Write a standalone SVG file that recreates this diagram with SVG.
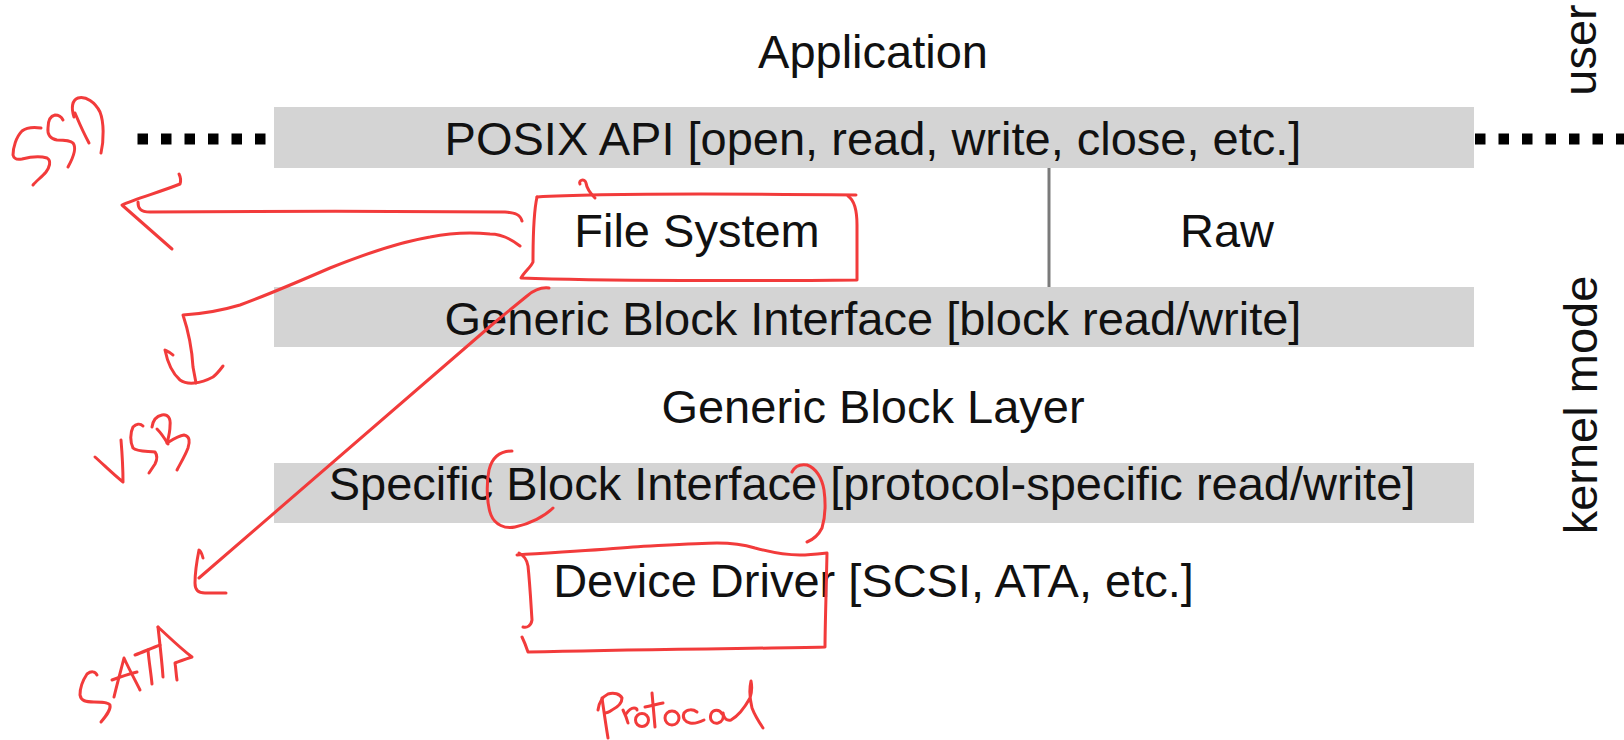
<svg xmlns="http://www.w3.org/2000/svg" width="1624" height="740" viewBox="0 0 1624 740">
  <style>
    .lbl { font-family: "Liberation Sans", Arial, Helvetica, sans-serif; font-size: 47px; fill: #111; text-anchor: middle; }
    .bar { fill: #d4d4d4; }
    .dots { stroke: #000; stroke-width: 11; stroke-dasharray: 10.5 13; fill: none; }
    .ink { fill: none; stroke: #f23b3b; stroke-width: 3; stroke-linecap: round; stroke-linejoin: round; }
  </style>

  <rect width="1624" height="740" fill="#fff"/>

  <!-- user / kernel boundary -->
  <g id="boundary">
    <line class="dots" x1="137.5" y1="139" x2="268" y2="139"/>
    <line class="dots" x1="1475" y1="139" x2="1624" y2="139"/>
  </g>

  <g id="application">
    <text class="lbl" x="873" y="68">Application</text>
  </g>

  <g id="posix-api">
    <rect class="bar" x="274" y="107" width="1200" height="61"/>
    <text class="lbl" x="873" y="155">POSIX API [open, read, write, close, etc.]</text>
  </g>

  <g id="file-system">
    <text class="lbl" x="697" y="247">File System</text>
  </g>

  <g id="raw">
    <text class="lbl" x="1227" y="247">Raw</text>
  </g>

  <g id="generic-block-interface">
    <rect class="bar" x="274" y="287" width="1200" height="60"/>
    <text class="lbl" x="873" y="335">Generic Block Interface [block read/write]</text>
  </g>

  <g id="generic-block-layer">
    <text class="lbl" x="873" y="423">Generic Block Layer</text>
  </g>

  <g id="specific-block-interface">
    <rect class="bar" x="274" y="463" width="1200" height="60"/>
    <text class="lbl" x="872" y="500">Specific Block Interface [protocol-specific read/write]</text>
  </g>

  <g id="device-driver">
    <text class="lbl" x="873.5" y="597">Device Driver [SCSI, ATA, etc.]</text>
  </g>

  <g id="mode-labels">
    <text class="lbl" transform="translate(1596,50) rotate(-90)">user</text>
    <text class="lbl" transform="translate(1597,405) rotate(-90)">kernel mode</text>
  </g>

  <!-- divider between File System and Raw -->
  <g id="connectors">
    <line x1="1049" y1="168" x2="1049" y2="287" stroke="#7a7a7a" stroke-width="3"/>
  </g>

  <!-- handwritten notes in red -->
  <g id="notes">
    <!-- box round File System -->
    <path class="ink" d="M580,184 C578,180 585,178 586,183 C587,190 592,195 595,198"/>
    <path class="ink" d="M537,197 C600,193 760,194 856,195"/>
    <path class="ink" d="M848,196 C854,200 857,210 857,225 C857,245 857,265 857,280 C760,281 600,281 521,278 C524,272 531,267 533,262 C533,240 533,215 537,197"/>
    <!-- SSD arrow -->
    <path class="ink" d="M522,221 C520,214 515,213 505,212 C400,211 250,211 150,212 C140,212 138,208 138,202"/>
    <path class="ink" d="M179,174 C181,178 181,181 180,184 C160,192 135,199 122,205 L172,249"/>
    <!-- SSD -->
    <path class="ink" d="M41,128 C34,127 27,127 22,131 C16,137 13,148 13,155 C14,159 17,160 22,159 C30,157 40,156 47,158 C52,161 49,168 46,172 C42,177 36,181 33,185"/>
    <path class="ink" d="M63,120 C61,116 58,115 55,115 C50,116 48,121 48,128 C47,135 51,139 57,140 C63,140 70,140 73,143 C77,148 73,158 68,167"/>
    <path class="ink" d="M75,113 C78,120 82,130 89,143"/>
    <path class="ink" d="M74,117 C71,108 72,100 78,98 C86,96 95,102 100,112 C104,122 104,140 101,153"/>
    <!-- USB arrow -->
    <path class="ink" d="M520,246 C510,238 500,234 490,234 C470,232 450,233 430,237 C400,242 370,252 330,268 C300,281 270,294 240,305 C220,311 200,314 183,315 C188,330 192,350 193,367 L196,383"/>
    <path class="ink" d="M173,355 C170,352 167,351 165,350 C167,360 172,373 180,380 C187,385 200,384 213,377 C217,374 220,370 223,366"/>
    <!-- USB -->
    <path class="ink" d="M95,457 C104,465 114,475 123,482 C123,468 122,452 121,440"/>
    <path class="ink" d="M143,426 C140,423 136,424 133,427 C130,433 130,442 133,448 C137,452 148,451 155,452 C158,456 157,460 155,464 L149,473"/>
    <path class="ink" d="M157,429 C162,434 165,439 168,444"/>
    <path class="ink" d="M152,427 C153,420 157,416 162,415 C168,414 171,418 170,426 C170,433 168,439 167,443 C172,440 178,436 184,435 C190,436 190,442 188,448 C185,456 180,464 177,470"/>
    <!-- SATA arrow -->
    <path class="ink" d="M549,288 C541,287 534,290 527,296 C516,305 505,314 494,323 L199,578"/>
    <path class="ink" d="M203,558 C202,554 201,551 199,550 C197,560 195,572 195,583 C195,590 198,593 205,593 C212,593 219,593 226,593"/>
    <!-- SATA -->
    <path class="ink" d="M97,675 C95,671 91,671 87,674 C83,680 80,688 80,695 C81,701 86,702 94,702 C101,702 108,702 110,705 C111,710 106,716 101,722"/>
    <path class="ink" d="M114,697 C117,684 121,670 124,658 C129,669 135,680 140,690"/>
    <path class="ink" d="M112,680 C120,677 129,674 137,672"/>
    <path class="ink" d="M135,655 C143,652 152,648 160,645"/>
    <path class="ink" d="M148,650 C149,662 151,673 152,684"/>
    <path class="ink" d="M158,627 C160,645 162,662 163,677"/>
    <path class="ink" d="M158,627 C168,636 180,648 192,657 C186,659 180,661 175,663 C176,669 176,674 177,680"/>
    <!-- brackets round Block / Interface -->
    <path class="ink" d="M512,451 C500,451 492,458 489,470 C486,485 487,505 491,515 C495,525 505,529 515,527 C530,524 545,516 553,508"/>
    <path class="ink" d="M792,472 C795,466 801,464 807,465 C816,468 822,478 824,490 C826,505 825,518 822,528 C818,536 812,540 807,542"/>
    <!-- box round Device Driver -->
    <path class="ink" d="M517,555 C560,552 600,550 633,547 C670,545 700,543 717,543 C735,543 745,545 755,548 C770,552 785,555 800,555 C810,555 818,554 827,553 C826,600 825,630 825,647 C740,649 640,649 528,652 C526,646 524,641 522,637"/>
    <path class="ink" d="M519,553 C525,556 527,560 528,566 C530,585 531,605 532,620 C531,626 527,628 523,627"/>
    <!-- Protocol -->
    <path class="ink" d="M602,698 C604,712 606,726 608,738"/>
    <path class="ink" d="M598,710 C599,702 602,697 608,694 C614,692 620,694 622,698 C622,703 618,707 612,710 C609,712 606,713 605,713"/>
    <path class="ink" d="M623,710 C625,714 627,719 628,723"/>
    <path class="ink" d="M626,714 C628,711 631,708 634,708 C636,708 637,709 637,710"/>
    <circle class="ink" cx="642" cy="720" r="6.5"/>
    <path class="ink" d="M652,693 C653,704 654,716 655,727"/>
    <path class="ink" d="M645,707 C651,706 657,704 663,703"/>
    <circle class="ink" cx="672" cy="718" r="7"/>
    <path class="ink" d="M697,712 C693,709 687,709 684,713 C682,718 685,722 690,723 C695,724 700,722 704,720"/>
    <path class="ink" d="M722,714 C720,709 713,709 711,714 C709,720 713,724 718,723 C722,722 724,718 723,713 C724,719 727,721 731,720 C738,716 745,707 750,698 C752,692 752,686 751,681 C749,690 750,700 752,708 C755,716 759,722 763,728"/>
  </g>
</svg>
